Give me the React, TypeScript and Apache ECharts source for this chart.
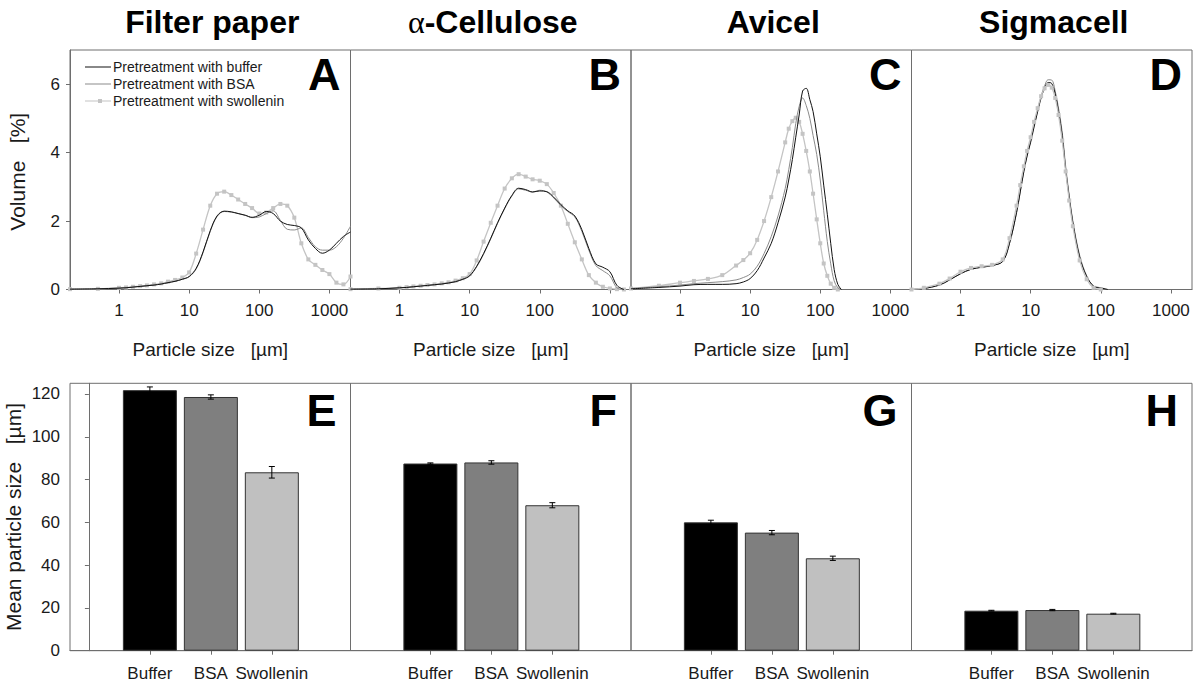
import React, { useEffect, useRef } from 'react';
import * as echarts from 'echarts';

// ---------- data ----------
const seriesNames = ['Pretreatment with buffer', 'Pretreatment with BSA', 'Pretreatment with swollenin'];
const panelTitles = ['Filter paper', 'α-Cellulose', 'Avicel', 'Sigmacell'];
const topLetters = ['A', 'B', 'C', 'D'];
const bottomLetters = ['E', 'F', 'G', 'H'];

const sizesAB = [0.2, 0.5, 1, 1.26, 1.58, 2, 2.5, 3.16, 4, 5, 6.3, 8, 10, 12.6, 15.8, 20, 25, 31.6, 40, 50, 63, 79, 100, 126, 158, 200, 251, 316, 398, 501, 631, 794, 1000, 1259, 1585, 2000];
const filterBuffer = [0.01, 0.02, 0.04, 0.05, 0.07, 0.09, 0.11, 0.13, 0.16, 0.2, 0.24, 0.3, 0.38, 0.62, 1.1, 1.72, 2.15, 2.29, 2.27, 2.22, 2.17, 2.11, 2.17, 2.28, 2.22, 2.0, 1.9, 1.87, 1.8, 1.45, 1.2, 1.06, 1.15, 1.35, 1.55, 1.68];
const filterBSA = [0.01, 0.02, 0.04, 0.05, 0.07, 0.09, 0.11, 0.13, 0.16, 0.2, 0.24, 0.3, 0.37, 0.6, 1.08, 1.7, 2.13, 2.28, 2.26, 2.22, 2.17, 2.1, 2.12, 2.22, 2.3, 2.02, 1.76, 1.74, 1.8, 1.52, 1.25, 1.15, 1.15, 1.25, 1.5, 1.85];
const filterSwollenin = [0.01, 0.02, 0.05, 0.06, 0.08, 0.1, 0.12, 0.15, 0.18, 0.23, 0.28, 0.35, 0.5, 1.05, 1.75, 2.45, 2.8, 2.86, 2.76, 2.63, 2.5, 2.38, 2.22, 2.25, 2.38, 2.5, 2.45, 2.1, 1.35, 0.88, 0.72, 0.57, 0.45, 0.2, 0.15, 0.38];
const celluloseBuffer = [0.01, 0.02, 0.05, 0.06, 0.08, 0.1, 0.12, 0.14, 0.16, 0.19, 0.23, 0.3, 0.4, 0.68, 1.05, 1.5, 1.95, 2.38, 2.75, 2.96, 2.92, 2.85, 2.88, 2.86, 2.7, 2.48, 2.3, 2.15, 1.75, 1.2, 0.75, 0.65, 0.52, 0.12, 0, null];
const celluloseBSA = [0.01, 0.02, 0.05, 0.06, 0.08, 0.1, 0.12, 0.14, 0.16, 0.19, 0.23, 0.3, 0.4, 0.66, 1.03, 1.48, 1.93, 2.36, 2.73, 2.94, 2.9, 2.85, 2.9, 2.85, 2.68, 2.45, 2.28, 2.12, 1.7, 1.15, 0.7, 0.55, 0.4, 0.05, 0, null];
const celluloseSwollenin = [0.01, 0.03, 0.05, 0.07, 0.09, 0.11, 0.13, 0.15, 0.18, 0.21, 0.26, 0.33, 0.45, 0.85, 1.4, 1.95, 2.45, 2.95, 3.25, 3.37, 3.3, 3.22, 3.18, 3.08, 2.82, 2.45, 1.92, 1.38, 0.88, 0.42, 0.2, 0.08, 0.03, 0.01, 0, null];

const sizesC = [0.2, 0.5, 1, 1.58, 2.5, 4, 6.3, 8, 10, 12.6, 15.8, 20, 25, 31.6, 35.5, 40, 44.7, 50, 56, 63, 71, 79, 89, 100, 112, 126, 141, 158, 178, 200, 251, 398, 1000, 2000];
const avicelBuffer = [0.02, 0.06, 0.1, 0.14, 0.15, 0.15, 0.17, 0.22, 0.32, 0.55, 0.92, 1.35, 1.95, 2.7, 3.2, 3.8, 4.45, 5.1, 5.8, 5.88, 5.55, 5.2, 4.55, 3.88, 3.05, 2.2, 1.35, 0.58, 0.15, 0, null, null, null, null];
const avicelBSA = [0.03, 0.08, 0.13, 0.17, 0.2, 0.23, 0.28, 0.35, 0.45, 0.68, 1.05, 1.55, 2.15, 2.95, 3.5, 4.15, 4.85, 5.35, 5.6, 5.38, 5.0, 4.5, 3.95, 3.2, 2.3, 1.4, 0.75, 0.25, 0.05, 0, null, null, null, null];
const avicelSwollenin = [0.03, 0.11, 0.2, 0.25, 0.31, 0.42, 0.7, 0.86, 1.06, 1.45, 2.0, 2.7, 3.45, 4.3, 4.7, 4.92, 5.02, 4.9, 4.55, 4.05, 3.45, 2.8, 2.05, 1.35, 0.76, 0.4, 0.17, 0.05, 0, null, null, null, null, null];

const sizesD = [0.2, 0.3, 0.5, 0.7, 1, 1.41, 2, 2.82, 4, 5, 6.3, 7.1, 8, 8.9, 10, 11.2, 12.6, 14.1, 15.8, 17.8, 20, 22.4, 25, 28.2, 31.6, 35.5, 40, 50, 63, 79, 100, 126, 200, 2000];
const sigmaBuffer = [0, 0.03, 0.13, 0.28, 0.46, 0.59, 0.65, 0.7, 0.82, 1.35, 2.25, 2.85, 3.45, 3.9, 4.3, 4.75, 5.2, 5.6, 5.88, 6.05, 6.02, 5.72, 5.2, 4.5, 3.5, 2.7, 1.95, 0.95, 0.38, 0.1, 0.05, 0, null, null];
const sigmaBSA = [0, 0.03, 0.13, 0.28, 0.46, 0.59, 0.65, 0.7, 0.82, 1.35, 2.25, 2.85, 3.45, 3.92, 4.35, 4.8, 5.25, 5.65, 5.95, 6.13, 6.12, 5.8, 5.3, 4.6, 3.6, 2.75, 2.0, 1.0, 0.4, 0.1, 0.03, 0, null, null];
const sigmaSwollenin = [0, 0.05, 0.17, 0.32, 0.52, 0.63, 0.68, 0.72, 0.88, 1.5, 2.45, 3.05, 3.6, 4.05, 4.45, 4.9, 5.3, 5.65, 5.88, 5.98, 5.9, 5.6, 5.1, 4.35, 3.45, 2.6, 1.85, 0.85, 0.3, 0.05, 0, null, null, null];

const barCategories = ['Buffer', 'BSA', 'Swollenin'];
const meanFilter = [121.8, 118.6, 83.4];
const errFilter = [1.5, 1.0, 2.7];
const meanCellulose = [87.5, 88.0, 68.0];
const errCellulose = [0.3, 0.8, 1.2];
const meanAvicel = [60.0, 55.2, 43.2];
const errAvicel = [1.0, 1.0, 1.0];
const meanSigmacell = [18.7, 19.0, 17.3];
const errSigmacell = [0.2, 0.3, 0.2];

// ---------- layout / style ----------
const FONT = '"Liberation Sans", Arial, Helvetica, sans-serif';
const COLS = [70, 350.5, 631, 911.5];
const W = 280.5;
const TOP_Y = 50;
const TOP_H = 239.5;
const BOT_Y = 383.3;
const BOT_H = 267.4;
const AXIS_COLOR = '#6e6e6e';
const TEXT_COLOR = '#1a1a1a';
const lineColors = ['#111111', '#8a8a8a', '#c4c4c4'];
const barColors = ['#000000', '#7f7f7f', '#c0c0c0'];
const legendIcons = [
  'path://M0,4.5L26,4.5L26,5.5L0,5.5Z',
  'path://M0,4.5L26,4.5L26,5.5L0,5.5Z',
  'path://M0,4.4L26,4.4L26,5.6L0,5.6Z M13,3L17,3L17,7L13,7Z',
];

const topPanels = [
  { sizes: sizesAB, vals: [filterBuffer, filterBSA, filterSwollenin] },
  { sizes: sizesAB, vals: [celluloseBuffer, celluloseBSA, celluloseSwollenin] },
  { sizes: sizesC, vals: [avicelBuffer, avicelBSA, avicelSwollenin] },
  { sizes: sizesD, vals: [sigmaBuffer, sigmaBSA, sigmaSwollenin] },
];
const bottomPanels = [
  { means: meanFilter, errs: errFilter },
  { means: meanCellulose, errs: errCellulose },
  { means: meanAvicel, errs: errAvicel },
  { means: meanSigmacell, errs: errSigmacell },
];

function buildOption(): any {
  const grid: any[] = [];
  const xAxis: any[] = [];
  const yAxis: any[] = [];
  const series: any[] = [];
  const graphic: any[] = [];

  for (let i = 0; i < 4; i++) {
    grid.push({
      left: COLS[i], top: TOP_Y, width: W, height: TOP_H,
      show: true, borderColor: AXIS_COLOR, borderWidth: 1, backgroundColor: 'transparent',
    });
  }
  for (let i = 0; i < 4; i++) {
    grid.push({
      left: COLS[i], top: BOT_Y, width: W, height: BOT_H,
      show: true, borderColor: AXIS_COLOR, borderWidth: 1, backgroundColor: 'transparent',
    });
  }

  // top panels
  topPanels.forEach((p, i) => {
    xAxis.push({
      type: 'log', logBase: 10, gridIndex: i, min: 0.2, max: 2000,
      axisLine: { show: true, lineStyle: { color: AXIS_COLOR, width: 1 } },
      axisTick: { show: true, length: 4, lineStyle: { color: AXIS_COLOR } },
      axisLabel: {
        fontSize: 17, color: TEXT_COLOR, fontFamily: FONT, margin: 12,
        showMinLabel: false, showMaxLabel: false,
        formatter: (v: number) => String(Math.round(v)),
      },
      splitLine: { show: false },
      name: 'Particle size   [µm]', nameLocation: 'middle', nameGap: 50,
      nameTextStyle: { fontSize: 19, color: TEXT_COLOR, fontFamily: FONT },
    });
    yAxis.push({
      type: 'value', gridIndex: i, min: 0, max: 7, interval: 2,
      axisLine: { show: i === 0, lineStyle: { color: AXIS_COLOR } },
      axisTick: { show: i === 0, length: 4, lineStyle: { color: AXIS_COLOR } },
      axisLabel: { show: i === 0, fontSize: 17, color: TEXT_COLOR, fontFamily: FONT, margin: 10, showMaxLabel: false },
      splitLine: { show: false },
    });
    p.vals.forEach((vals, k) => {
      const isSw = k === 2;
      series.push({
        type: 'line', name: seriesNames[k], xAxisIndex: i, yAxisIndex: i,
        data: p.sizes.map((s, j) => [s, vals[j]]),
        smooth: 0.35,
        connectNulls: false,
        symbol: isSw ? 'rect' : 'none',
        symbolSize: isSw ? 4 : 0,
        showSymbol: isSw,
        itemStyle: { color: lineColors[k] },
        lineStyle: { color: lineColors[k], width: isSw ? 1.3 : 1 },
        z: i === 3 ? (isSw ? 4 : 3 - k) : 3 - k,
      });
    });
    graphic.push({
      type: 'text', x: COLS[i] + W - 10, y: TOP_Y + 24,
      style: { text: topLetters[i], fontSize: 45, fontWeight: 'bold', fontFamily: FONT, fill: '#000', textAlign: 'right', textVerticalAlign: 'middle' },
    });
    const title = i === 1
      ? { text: '{a|α}-Cellulose', rich: { a: { fontFamily: '"Liberation Serif", "DejaVu Serif", serif', fontSize: 32, fontWeight: 'normal', fill: '#000' } } }
      : { text: panelTitles[i] };
    graphic.push({
      type: 'text', x: COLS[i] + W / 2 + 2, y: 22,
      style: { ...title, fontSize: 32, fontWeight: 'bold', fontFamily: FONT, fill: '#000', textAlign: 'center', textVerticalAlign: 'middle' },
    });
  });

  // bottom panels
  bottomPanels.forEach((p, i) => {
    const gi = 4 + i;
    xAxis.push({
      type: 'value', gridIndex: gi, min: -0.31, max: 4.29,
      axisLine: { show: true, lineStyle: { color: AXIS_COLOR } },
      axisTick: { show: true, length: 4, customValues: [1, 2, 3], lineStyle: { color: AXIS_COLOR } },
      axisLabel: {
        customValues: [1, 2, 3], fontSize: 17, color: TEXT_COLOR, fontFamily: FONT, margin: 14,
        formatter: (v: number) => barCategories[Math.round(v) - 1] ?? '',
      },
      splitLine: { show: false },
    });
    yAxis.push({
      type: 'value', gridIndex: gi, min: 0, max: 125, interval: 20,
      axisLine: { show: i === 0, lineStyle: { color: AXIS_COLOR } },
      axisTick: { show: i === 0, length: 4, lineStyle: { color: AXIS_COLOR } },
      axisLabel: { show: i === 0, fontSize: 17, color: TEXT_COLOR, fontFamily: FONT, margin: 10, showMaxLabel: false },
      splitLine: { show: false },
    });
    series.push({
      type: 'bar', xAxisIndex: gi, yAxisIndex: gi, barWidth: 54,
      data: p.means.map((v, k) => ({ value: [k + 1, v], itemStyle: { color: barColors[k] } })),
      itemStyle: { borderColor: '#333333', borderWidth: 1 },
      z: 2,
    });
    series.push({
      type: 'custom', xAxisIndex: gi, yAxisIndex: gi,
      data: p.means.map((v, k) => [k + 1, v, p.errs[k]]),
      encode: { x: 0, y: 1 },
      z: 5,
      renderItem: (params: any, api: any) => {
        const x = api.value(0);
        const y = api.value(1);
        const e = api.value(2);
        const top = api.coord([x, y + e]);
        const bot = api.coord([x, y - e]);
        const hw = 3;
        const st = { stroke: '#000', lineWidth: 1 };
        return {
          type: 'group',
          children: [
            { type: 'line', shape: { x1: top[0], y1: top[1], x2: bot[0], y2: bot[1] }, style: st },
            { type: 'line', shape: { x1: top[0] - hw, y1: top[1], x2: top[0] + hw, y2: top[1] }, style: st },
            { type: 'line', shape: { x1: bot[0] - hw, y1: bot[1], x2: bot[0] + hw, y2: bot[1] }, style: st },
          ],
        };
      },
    });
    graphic.push({
      type: 'text', x: COLS[i] + W - 14, y: BOT_Y + 27,
      style: { text: bottomLetters[i], fontSize: 45, fontWeight: 'bold', fontFamily: FONT, fill: '#000', textAlign: 'right', textVerticalAlign: 'middle' },
    });
  });

  // y axis names
  graphic.push({
    type: 'text', x: 17, y: TOP_Y + TOP_H / 2 + 2, rotation: Math.PI / 2,
    style: { text: 'Volume   [%]', fontSize: 21, fontFamily: FONT, fill: TEXT_COLOR, textAlign: 'center', textVerticalAlign: 'middle' },
  });
  graphic.push({
    type: 'text', x: 13, y: BOT_Y + BOT_H / 2, rotation: Math.PI / 2,
    style: { text: 'Mean particle size   [µm]', fontSize: 21, fontFamily: FONT, fill: TEXT_COLOR, textAlign: 'center', textVerticalAlign: 'middle' },
  });

  return {
    animation: false,
    backgroundColor: '#ffffff',
    textStyle: { fontFamily: FONT },
    grid, xAxis, yAxis, series, graphic,
    legend: {
      data: seriesNames.map((n, k) => ({ name: n, icon: legendIcons[k], itemStyle: { color: lineColors[k] } })),
      orient: 'vertical', left: 80, top: 55,
      itemWidth: 26, itemHeight: 10, itemGap: 3,
      textStyle: { fontSize: 14, color: TEXT_COLOR, fontFamily: FONT, padding: [0, 0, 0, -3] },
      selectedMode: false,
    },
  };
}

export default function App() {
  const ref = useRef<HTMLDivElement>(null);
  useEffect(() => {
    document.body.style.margin = '0';
    const chart = echarts.init(ref.current as HTMLDivElement, null, { renderer: 'svg' });
    chart.setOption(buildOption());
    return () => chart.dispose();
  }, []);
  return <div ref={ref} style={{ width: 1200, height: 683 }} />;
}
